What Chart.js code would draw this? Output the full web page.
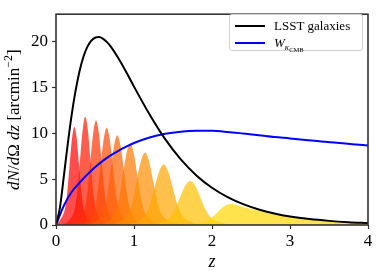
<!DOCTYPE html>
<html>
<head>
<meta charset="utf-8">
<script src="https://cdn.jsdelivr.net/npm/chart.js@4.4.1/dist/chart.umd.min.js"></script>
<style>
  html, body { margin: 0; padding: 0; background: #fff; }
  #wrap { width: 379px; height: 277px; }
</style>
</head>
<body>
<div id="wrap"><canvas id="nz"></canvas></div>
<script>
// LSST galaxy n(z)
const zGal = [0, 0.05, 0.1, 0.15, 0.2, 0.25, 0.3, 0.35, 0.4, 0.45, 0.5, 0.55, 0.6, 0.65, 0.7, 0.8, 0.9, 1.0, 1.2, 1.4, 1.6, 1.8, 2.0, 2.2, 2.4, 2.6, 2.8, 3.0, 3.25, 3.5, 3.75, 4.0];
const nGal = [0, 1.87, 5.27, 8.8, 11.97, 14.6, 16.73, 18.3, 19.4, 20.09, 20.43, 20.5, 20.34, 19.98, 19.5, 18.2, 16.7, 15.1, 12.06, 9.37, 7.16, 5.41, 4.06, 3.04, 2.27, 1.69, 1.26, 0.93, 0.645, 0.45, 0.31, 0.215];

// CMB lensing kernel
const zCmb = [0, 0.1, 0.2, 0.3, 0.4, 0.5, 0.6, 0.7, 0.8, 0.9, 1.0, 1.2, 1.4, 1.6, 1.8, 2.0, 2.2, 2.4, 2.6, 2.8, 3.0, 3.2, 3.4, 3.6, 3.8, 4.0];
const wCmb = [0, 2.1, 3.6, 4.6, 5.5, 6.3, 7.0, 7.6, 8.1, 8.55, 8.95, 9.55, 9.95, 10.18, 10.28, 10.27, 10.15, 9.98, 9.8, 9.6, 9.45, 9.28, 9.1, 8.97, 8.82, 8.68];

// tomographic bins
const binZ = [
  [0, 0.052, 0.113, 0.144, 0.174, 0.205, 0.235, 0.266, 0.296, 0.327, 0.357, 0.418, 0.51],
  [0.078, 0.177, 0.243, 0.276, 0.309, 0.342, 0.375, 0.408, 0.441, 0.474, 0.507, 0.573, 0.672],
  [0.189, 0.297, 0.369, 0.405, 0.441, 0.477, 0.513, 0.549, 0.585, 0.621, 0.657, 0.729, 0.837],
  [0.299, 0.416, 0.494, 0.533, 0.572, 0.611, 0.65, 0.689, 0.728, 0.767, 0.806, 0.884, 1.001],
  [0.403, 0.53, 0.615, 0.658, 0.70, 0.743, 0.785, 0.828, 0.87, 0.913, 0.955, 1.04, 1.168],
  [0.532, 0.671, 0.764, 0.811, 0.857, 0.904, 0.95, 0.997, 1.043, 1.09, 1.136, 1.229, 1.369],
  [0.668, 0.825, 0.93, 0.983, 1.035, 1.088, 1.14, 1.193, 1.245, 1.298, 1.35, 1.455, 1.613],
  [0.849, 1.026, 1.144, 1.203, 1.262, 1.321, 1.38, 1.439, 1.498, 1.557, 1.616, 1.734, 1.911],
  [1.113, 1.315, 1.45, 1.518, 1.585, 1.653, 1.72, 1.788, 1.855, 1.923, 1.99, 2.125, 2.328],
  [1.51, 1.75, 1.91, 1.99, 2.07, 2.15, 2.23, 2.3, 2.4, 2.5, 2.6, 2.8, 3.0, 3.25, 3.5, 3.75, 4.0]
];
const binN = [
  [0, 0.54, 1.71, 3.53, 6.53, 9.42, 10.7, 9.42, 6.53, 3.53, 1.71, 0.54, 0],
  [0, 0.59, 1.89, 3.89, 7.20, 10.38, 11.8, 10.38, 7.20, 3.89, 1.89, 0.59, 0],
  [0, 0.57, 1.82, 3.76, 6.95, 10.03, 11.4, 10.03, 6.95, 3.76, 1.82, 0.57, 0],
  [0, 0.53, 1.70, 3.50, 6.47, 9.33, 10.6, 9.33, 6.47, 3.50, 1.70, 0.53, 0],
  [0, 0.49, 1.57, 3.23, 5.98, 8.62, 9.8, 8.62, 5.98, 3.23, 1.57, 0.49, 0],
  [0, 0.45, 1.42, 2.94, 5.43, 7.83, 8.9, 7.83, 5.43, 2.94, 1.42, 0.45, 0],
  [0, 0.40, 1.26, 2.61, 4.82, 6.95, 7.9, 6.95, 4.82, 2.61, 1.26, 0.40, 0],
  [0, 0.33, 1.06, 2.18, 4.03, 5.81, 6.6, 5.81, 4.03, 2.18, 1.06, 0.33, 0],
  [0, 0.24, 0.77, 1.58, 2.93, 4.22, 4.8, 4.22, 2.93, 1.58, 0.77, 0.24, 0],
  [0, 0.12, 0.37, 0.76, 1.40, 2.02, 2.3, 2.25, 1.97, 1.75, 1.58, 1.2, 0.88, 0.61, 0.43, 0.29, 0.2]
];

const xTicks = [0, 1, 2, 3, 4];
const yTicks = [0, 5, 10, 15, 20];

const SERIF = '"Liberation Serif", "DejaVu Serif", serif';

function pts(xs, ys) {
  return xs.map((x, i) => ({ x: x, y: ys[i] }));
}

// red -> yellow, like matplotlib autumn
function binColor(i) {
  const g = Math.round(215 * i / (binZ.length - 1));
  return 'rgba(255,' + g + ',0,0.7)';
}

const datasets = [
  {
    label: 'LSST galaxies',
    data: pts(zGal, nGal),
    borderColor: '#000',
    borderWidth: 2,
    fill: false,
    order: 0
  },
  {
    label: 'W_kCMB',
    data: pts(zCmb, wCmb),
    borderColor: '#0000ff',
    borderWidth: 2,
    fill: false,
    order: 0
  }
];
binZ.forEach((zs, i) => {
  datasets.push({
    label: 'bin ' + (i + 1),
    data: pts(zs, binN[i]),
    borderWidth: 0,
    borderColor: 'rgba(0,0,0,0)',
    backgroundColor: binColor(i),
    fill: 'origin',
    order: 20 - i
  });
});

function drawRuns(ctx, runs, x, y) {
  let cx = x;
  runs.forEach(r => {
    ctx.font = r.font;
    ctx.fillText(r.t, cx, y + (r.dy || 0));
    cx += ctx.measureText(r.t).width;
  });
}
function runsWidth(ctx, runs) {
  let w = 0;
  runs.forEach(r => { ctx.font = r.font; w += ctx.measureText(r.t).width; });
  return w;
}

const frame = {
  id: 'frame',
  afterDatasetsDraw(chart) {
    const a = chart.chartArea, ctx = chart.ctx;
    ctx.save();
    ctx.strokeStyle = '#333';
    ctx.lineWidth = 1.6;
    ctx.strokeRect(a.left, a.top, a.right - a.left, a.bottom - a.top);
    ctx.restore();
  },
  afterDraw(chart) {
    const a = chart.chartArea, ctx = chart.ctx;
    ctx.save();
    ctx.fillStyle = '#000';
    ctx.textBaseline = 'middle';

    // x title
    ctx.font = 'italic 18px ' + SERIF;
    ctx.textAlign = 'center';
    ctx.fillText('z', (a.left + a.right) / 2, 262);

    // y title
    ctx.textAlign = 'left';
    const it = 'italic 17px ' + SERIF, up = '17px ' + SERIF, sm = '12px ' + SERIF;
    const yRuns = [
      { t: 'dN', font: it }, { t: '/', font: up }, { t: 'd', font: it },
      { t: 'Ω', font: up }, { t: ' ', font: up }, { t: 'dz', font: it },
      { t: ' [arcmin', font: up }, { t: '−2', font: sm, dy: -6 }, { t: ']', font: up }
    ];
    ctx.translate(15, (a.top + a.bottom) / 2);
    ctx.rotate(-Math.PI / 2);
    drawRuns(ctx, yRuns, -runsWidth(ctx, yRuns) / 2, 0);
    ctx.setTransform(1, 0, 0, 1, 0, 0);

    // legend
    const lx = 229, ly = 14, lw = 133, lh = 36;
    ctx.fillStyle = 'rgba(255,255,255,0.8)';
    ctx.strokeStyle = '#d0d0d0';
    ctx.lineWidth = 1;
    ctx.beginPath();
    ctx.roundRect(lx + 0.5, ly + 0.5, lw, lh, 2);
    ctx.fill();
    ctx.stroke();

    ctx.lineWidth = 2;
    ctx.strokeStyle = '#000';
    ctx.beginPath(); ctx.moveTo(235, 26); ctx.lineTo(265, 26); ctx.stroke();
    ctx.strokeStyle = '#0000ff';
    ctx.beginPath(); ctx.moveTo(235, 43); ctx.lineTo(265, 43); ctx.stroke();

    ctx.fillStyle = '#000';
    ctx.textBaseline = 'alphabetic';
    ctx.font = '13px ' + SERIF;
    ctx.fillText('LSST galaxies', 274, 30);
    drawRuns(ctx, [
      { t: 'W', font: 'italic 13px ' + SERIF },
      { t: 'κ', font: 'italic 9px ' + SERIF, dy: 3 },
      { t: 'CMB', font: '6.5px ' + SERIF, dy: 5 }
    ], 274, 47);
    ctx.restore();
  }
};

new Chart(document.getElementById('nz'), {
  type: 'line',
  data: { datasets: datasets },
  options: {
    responsive: true,
    maintainAspectRatio: false,
    animation: false,
    layout: { padding: { top: 11, right: 11, left: 0, bottom: 0 } },
    elements: {
      point: { radius: 0, hoverRadius: 0 },
      line: { cubicInterpolationMode: 'monotone' }
    },
    plugins: {
      legend: { display: false },
      tooltip: { enabled: false }
    },
    scales: {
      x: {
        type: 'linear',
        min: 0,
        max: 4,
        afterBuildTicks: s => { s.ticks = xTicks.map(v => ({ value: v })); },
        afterFit: s => { s.height = 52; },
        grid: { display: true, drawOnChartArea: false, drawTicks: true, tickLength: 4, tickColor: '#333', tickWidth: 1.2 },
        border: { display: false },
        ticks: { color: '#000', padding: 2, font: { family: SERIF, size: 17 } }
      },
      y: {
        type: 'linear',
        min: 0,
        max: 23,
        afterBuildTicks: s => { s.ticks = yTicks.map(v => ({ value: v })); },
        afterFit: s => { s.width = 56; },
        grid: { display: true, drawOnChartArea: false, drawTicks: true, tickLength: 4, tickColor: '#333', tickWidth: 1.2 },
        border: { display: false },
        ticks: { color: '#000', padding: 4, font: { family: SERIF, size: 17 } }
      }
    }
  },
  plugins: [frame]
});
</script>
</body>
</html>
